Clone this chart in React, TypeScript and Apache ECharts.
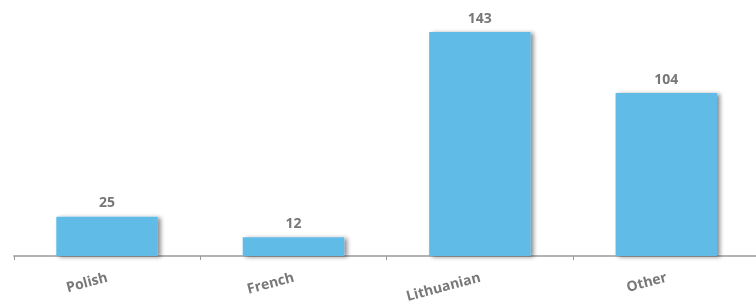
import React, { useEffect, useRef } from "react";
import * as echarts from "echarts";

const categories = ["Polish", "French", "Lithuanian", "Other"];
const values = [25, 12, 143, 104];

export default function App() {
  const ref = useRef<HTMLDivElement>(null);
  useEffect(() => {
    const chart = echarts.init(ref.current!, null, { renderer: "svg" });
    chart.setOption({
      animation: false,
      grid: {
        left: 13.8,
        top: 5.4,
        width: 745.7,
        bottom: 48,
        containLabel: false,
        outerBoundsMode: "none",
      },
      xAxis: {
        type: "category",
        data: categories,
        axisLine: { lineStyle: { color: "#9a9a9a", width: 1.5 } },
        axisTick: { show: true, length: 4, lineStyle: { color: "#9a9a9a" } },
        axisLabel: {
          rotate: 15,
          margin: 20,
          color: "#777777",
          fontWeight: "bold",
          fontSize: 14,
          fontFamily: "Open Sans",
        },
      },
      yAxis: {
        type: "value",
        min: 0,
        max: 160,
        show: false,
        splitLine: { show: false },
      },
      series: [
        {
          type: "bar",
          data: values,
          barWidth: "54.4%",
          itemStyle: {
            color: "#60bce6",
            shadowColor: "rgba(0,0,0,0.45)",
            shadowBlur: 4,
            shadowOffsetX: 3,
            shadowOffsetY: 1,
          },
          label: {
            show: true,
            position: "top",
            distance: 8,
            color: "#777777",
            fontWeight: "bold",
            fontSize: 14,
            fontFamily: "Open Sans",
          },
        },
      ],
    });
    return () => chart.dispose();
  }, []);
  return (
    <div
      ref={ref}
      style={{ position: "fixed", left: 0, top: 0, width: 756, height: 304 }}
    />
  );
}
